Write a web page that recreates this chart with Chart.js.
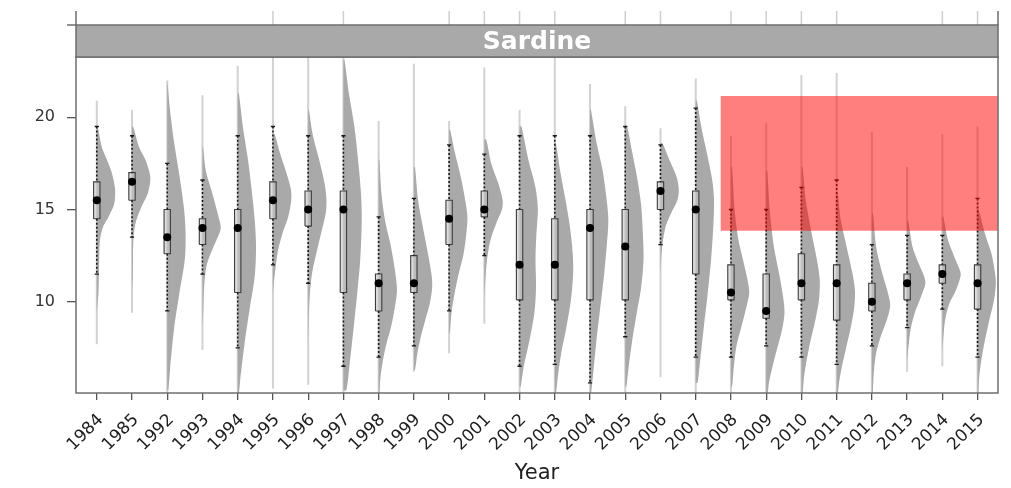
<!DOCTYPE html>
<html>
<head>
<meta charset="utf-8">
<script src="https://cdn.jsdelivr.net/npm/chart.js@4.4.1/dist/chart.umd.min.js"></script>
<style>
  html, body { margin: 0; padding: 0; background: #ffffff; }
  #wrap { width: 1011px; height: 488px; }
</style>
</head>
<body>
<div id="wrap"><canvas id="chart" width="1011" height="488"></canvas></div>
<script>
// Survey years shown on the x axis
const years = ['1984','1985','1992','1993','1994','1995','1996','1997','1998','1999','2000','2001','2002',
               '2003','2004','2005','2006','2007','2008','2009','2010','2011','2012','2013','2014','2015'];

// Full extent of each length distribution (thin grey line)
const rangeLow  = [7.7, 9.4, 5.0, 7.4, 5.0, 5.3, 5.5, 5.0, 5.0, 6.2, 7.2, 8.8, 5.0, 5.0, 5.0, 5.0, 5.9, 5.0, 5.0, 5.0, 5.0, 5.0, 5.0, 6.2, 6.5, 5.0];
const rangeHigh = [20.9, 20.4, 22.0, 21.2, 22.8, 23.3, 23.3, 23.3, 19.8, 22.9, 19.8, 22.7, 20.4, 23.3, 21.8, 20.6, 19.4, 22.1, 19.0, 19.7, 22.3, 22.4, 19.2, 17.3, 19.1, 19.5];

// Box-and-whisker summary per year
const whiskerLow  = [11.5, 13.5, 9.5, 11.5, 7.5, 12.0, 11.0, 6.5, 7.0, 7.6, 9.5, 12.5, 6.5, 6.6, 5.6, 8.1, 13.1, 7.0, 7.0, 7.6, 7.0, 6.6, 7.6, 8.6, 9.6, 7.0];
const q1          = [14.5, 15.5, 12.6, 13.1, 10.5, 14.5, 14.1, 10.5, 9.5, 10.5, 13.1, 14.6, 10.1, 10.1, 10.1, 10.1, 15.0, 11.5, 10.1, 9.1, 10.1, 9.0, 9.5, 10.1, 11.0, 9.6];
const median      = [15.5, 16.5, 13.5, 14.0, 14.0, 15.5, 15.0, 15.0, 11.0, 11.0, 14.5, 15.0, 12.0, 12.0, 14.0, 13.0, 16.0, 15.0, 10.5, 9.5, 11.0, 11.0, 10.0, 11.0, 11.5, 11.0];
const q3          = [16.5, 17.0, 15.0, 14.5, 15.0, 16.5, 16.0, 16.0, 11.5, 12.5, 15.5, 16.0, 15.0, 14.5, 15.0, 15.0, 16.5, 16.0, 12.0, 11.5, 12.6, 12.0, 11.0, 11.5, 12.0, 12.0];
const whiskerHigh = [19.5, 19.0, 17.5, 16.6, 19.0, 19.5, 19.0, 19.0, 14.6, 15.6, 18.5, 18.0, 19.0, 19.0, 19.0, 19.5, 18.5, 20.5, 15.0, 15.0, 16.2, 16.6, 13.1, 13.6, 13.6, 15.6];

// Density profile of each year: [length, relative density], from top to bottom
const violinProfiles = [
  [[19.5,.05],[18.4,.27],[17.7,.55],[17.0,.82],[16.1,1],[15.3,.95],[14.6,.64],[14.1,.36],[13.4,.18],[12.3,.13],[10.5,.09],[9.4,0]],
  [[19.5,.06],[18.4,.38],[17.7,.73],[17.0,.96],[16.6,1],[15.9,.87],[15.2,.54],[14.4,.23],[13.7,.1],[13.0,.06],[11.5,.04],[10.5,0]],
  [[21.8,.02],[20.4,.15],[18.6,.38],[16.8,.67],[15.0,.92],[13.7,1],[12.3,.96],[10.5,.67],[8.6,.38],[6.8,.19],[5.2,.06]],
  [[18.4,.03],[17.1,.18],[15.9,.53],[14.6,.88],[14.0,1],[13.4,.79],[12.6,.44],[11.9,.21],[10.8,.09],[9.4,.04],[8.6,0]],
  [[21.3,.06],[19.5,.28],[17.7,.56],[15.9,.78],[14.4,.93],[13.0,1],[11.4,.93],[9.6,.65],[7.7,.37],[5.9,.15],[5.0,.06]],
  [[19.1,.09],[18.1,.37],[17.1,.7],[16.1,.98],[15.5,1],[14.6,.83],[13.7,.52],[12.8,.28],[11.9,.15],[11.2,.07],[10.5,0]],
  [[20.4,.04],[19.1,.24],[17.7,.6],[16.4,.9],[15.5,1],[14.8,.96],[13.7,.7],[12.6,.44],[11.7,.24],[10.8,.12],[9.4,.04],[7.7,0]],
  [[23.1,.06],[21.3,.3],[19.5,.6],[17.7,.8],[15.9,.96],[14.4,1],[12.3,.92],[10.5,.76],[8.6,.56],[6.8,.36],[5.2,.16]],
  [[17.7,.04],[15.9,.15],[14.4,.35],[13.0,.67],[11.5,.92],[10.6,1],[9.6,.87],[8.6,.67],[7.7,.42],[6.8,.23],[5.9,.1],[5.0,.04]],
  [[17.3,.06],[15.5,.23],[14.1,.48],[12.6,.77],[11.5,.96],[10.8,1],[9.9,.87],[9.0,.62],[8.1,.38],[7.2,.19],[6.3,.06]],
  [[19.3,.06],[18.1,.31],[16.8,.63],[15.5,.88],[14.6,1],[13.7,.94],[12.6,.79],[11.5,.52],[10.5,.31],[9.4,.13],[8.3,.04]],
  [[18.8,.1],[17.5,.38],[16.4,.77],[15.5,1],[15.0,.96],[14.3,.67],[13.4,.35],[12.3,.15],[11.2,.06],[10.1,0]],
  [[19.5,.1],[17.7,.48],[16.2,.87],[15.0,1],[13.7,.92],[12.3,.87],[10.8,.9],[9.4,.81],[7.9,.54],[6.5,.23],[5.4,.06]],
  [[18.6,.06],[17.1,.29],[15.5,.59],[14.1,.82],[12.6,.98],[11.5,1],[10.1,.88],[8.6,.63],[7.2,.35],[5.9,.16],[5.0,.06]],
  [[20.4,.05],[18.6,.36],[17.1,.69],[15.5,.91],[14.4,1],[13.0,.91],[11.4,.76],[9.6,.55],[7.7,.33],[5.9,.15],[5.0,.05]],
  [[19.5,.1],[18.1,.38],[16.6,.67],[15.2,.87],[13.7,.96],[12.3,1],[10.8,.87],[9.4,.63],[7.9,.38],[6.5,.19],[5.4,.06]],
  [[18.6,.1],[17.7,.48],[16.8,.87],[16.1,1],[15.5,.92],[14.8,.58],[14.1,.29],[13.2,.12],[12.3,.04],[11.4,0]],
  [[20.9,.06],[19.5,.3],[18.1,.6],[16.6,.9],[15.5,1],[14.1,.96],[12.3,.84],[10.5,.66],[8.6,.44],[6.8,.24],[5.6,.1]],
  [[17.3,.06],[15.0,.2],[13.4,.4],[12.1,.7],[11.2,.9],[10.5,1],[9.7,.84],[8.6,.56],[7.6,.3],[6.5,.16],[5.4,.06]],
  [[17.1,.06],[15.0,.19],[13.0,.42],[11.4,.73],[10.3,.92],[9.4,1],[8.5,.87],[7.4,.58],[6.5,.35],[5.6,.15],[5.0,.08]],
  [[17.3,.06],[15.5,.24],[13.7,.56],[12.3,.84],[11.2,1],[10.1,.96],[9.0,.76],[7.9,.5],[6.8,.28],[5.9,.14],[5.0,.06]],
  [[15.9,.06],[14.4,.23],[13.0,.54],[11.5,.87],[10.6,1],[9.7,.96],[8.6,.77],[7.6,.54],[6.5,.29],[5.6,.13],[5.0,.06]],
  [[14.8,.06],[13.0,.23],[11.5,.58],[10.5,.87],[9.8,1],[9.0,.81],[8.1,.48],[7.2,.23],[6.1,.1],[5.0,.04]],
  [[14.4,.06],[13.0,.29],[12.1,.62],[11.4,.92],[11.0,1],[10.3,.77],[9.4,.42],[8.5,.19],[7.6,.08],[6.8,0]],
  [[14.6,.06],[13.4,.29],[12.4,.67],[11.7,.96],[11.4,1],[10.6,.73],[9.9,.38],[9.0,.15],[8.1,.06],[7.4,0]],
  [[15.0,.06],[13.7,.4],[12.6,.76],[11.5,.96],[11.0,1],[10.1,.9],[9.0,.64],[7.9,.4],[6.8,.2],[5.8,.08],[5.0,.04]]
];

// Highlighted length band (recent years)
const highlightStart = 17.71;   // category position where the band begins
const highlightLow = 13.85;
const highlightHigh = 21.15;

// Years whose distribution lines from the panel above show over the strip
const upperPanelYears = ['1995','1997','2000','2001','2002','2003','2005','2006','2008','2009','2010','2011','2014','2015'];

const yTickValues = [10, 15, 20];

// Axis limits (category positions and lengths)
const xMin = -0.59, xMax = 25.58;
const yMin = 5.05, yMax = 23.27;

// Half-widths in category units
const violinWidth = 0.52;
const boxHalf = 0.09;
const capHalf = 0.06;

const FONT = '"DejaVu Sans", "Liberation Sans", Arial, sans-serif';

const datasets = [];

// Highlight band, drawn on top
datasets.push({
  label: 'band', order: 0, showLine: true, fill: 'shape',
  data: [{x: highlightStart, y: highlightLow}, {x: xMax, y: highlightLow},
         {x: xMax, y: highlightHigh}, {x: highlightStart, y: highlightHigh}],
  backgroundColor: 'rgba(255,0,0,0.5)', borderWidth: 0, pointRadius: 0
});

// Medians
datasets.push({
  label: 'median', order: 1, showLine: false,
  data: median.map((m, i) => ({x: i, y: m})),
  pointRadius: 4, pointBackgroundColor: '#000', pointBorderWidth: 0
});

// Dotted whiskers
const whiskerPts = [];
const capPts = [];
years.forEach((_, i) => {
  whiskerPts.push({x: i, y: whiskerHigh[i]}, {x: i, y: q3[i]}, {x: i, y: null},
                  {x: i, y: q1[i]}, {x: i, y: whiskerLow[i]}, {x: i, y: null});
  capPts.push({x: i - capHalf, y: whiskerHigh[i]}, {x: i + capHalf, y: whiskerHigh[i]}, {x: i, y: null},
              {x: i - capHalf, y: whiskerLow[i]}, {x: i + capHalf, y: whiskerLow[i]}, {x: i, y: null});
});
datasets.push({
  label: 'whiskers', order: 2, showLine: true, spanGaps: false, data: whiskerPts,
  borderColor: '#1a1a1a', borderWidth: 1.6, borderDash: [2, 2], pointRadius: 0
});
datasets.push({
  label: 'caps', order: 2, showLine: true, spanGaps: false, data: capPts,
  borderColor: '#1a1a1a', borderWidth: 1.3, pointRadius: 0
});

// Boxes
years.forEach((_, i) => {
  datasets.push({
    label: 'box ' + years[i], order: 3, showLine: true, fill: 'shape',
    data: [{x: i - boxHalf, y: q1[i]}, {x: i + boxHalf, y: q1[i]}, {x: i + boxHalf, y: q3[i]},
           {x: i - boxHalf, y: q3[i]}, {x: i - boxHalf, y: q1[i]}],
    backgroundColor: 'rgba(200,200,200,0.6)', borderColor: '#3c3c3c', borderWidth: 1.1, pointRadius: 0
  });
});

// Half violins (density to the right of each year)
violinProfiles.forEach((prof, i) => {
  const pts = [{x: i, y: prof[0][0]}];
  prof.forEach(([v, d]) => pts.push({x: i + d * violinWidth, y: v}));
  pts.push({x: i, y: prof[prof.length - 1][0]});
  datasets.push({
    label: 'density ' + years[i], order: 4, showLine: true, fill: 'shape', tension: 0.3,
    data: pts, backgroundColor: '#a9a9a9', borderWidth: 0, pointRadius: 0
  });
});

// Thin range lines
const rangePts = [];
years.forEach((_, i) => {
  rangePts.push({x: i, y: rangeLow[i]}, {x: i, y: rangeHigh[i]}, {x: i, y: null});
});
datasets.push({
  label: 'range', order: 5, showLine: true, spanGaps: false, data: rangePts,
  borderColor: '#d2d2d2', borderWidth: 2, pointRadius: 0
});

// Panel frame, strip with the panel name, and the edge of the panel above
const stripPlugin = {
  id: 'strip',
  afterDraw(chart) {
    const {ctx, chartArea: a} = chart;
    const xs = chart.scales.x;
    const stripH = 32, above = 14;
    const top = a.top - stripH;
    ctx.save();
    // lines of the panel above
    ctx.strokeStyle = '#cfcfcf';
    ctx.lineWidth = 1.5;
    upperPanelYears.forEach(y => {
      const px = xs.getPixelForValue(years.indexOf(y));
      ctx.beginPath(); ctx.moveTo(px, top - above); ctx.lineTo(px, top); ctx.stroke();
    });
    // frame
    ctx.strokeStyle = '#6e6e6e';
    ctx.lineWidth = 1.5;
    ctx.strokeRect(a.left, a.top, a.right - a.left, a.bottom - a.top);
    ctx.beginPath();
    ctx.moveTo(a.left, top - above); ctx.lineTo(a.left, top);
    ctx.moveTo(a.right, top - above); ctx.lineTo(a.right, top);
    ctx.moveTo(a.left - 9, top); ctx.lineTo(a.left, top);
    ctx.stroke();
    // strip
    ctx.fillStyle = '#a9a9a9';
    ctx.fillRect(a.left, top, a.right - a.left, stripH);
    ctx.strokeStyle = '#6e6e6e';
    ctx.strokeRect(a.left, top, a.right - a.left, stripH);
    ctx.fillStyle = '#ffffff';
    ctx.font = 'bold 25px ' + FONT;
    ctx.textAlign = 'center';
    ctx.textBaseline = 'middle';
    ctx.fillText('Sardine', (a.left + a.right) / 2, top + stripH / 2 + 1);
    ctx.restore();
  }
};

new Chart(document.getElementById('chart'), {
  type: 'scatter',
  data: { datasets },
  options: {
    responsive: false,
    animation: false,
    devicePixelRatio: 1,
    layout: { padding: { top: 57, right: 13, left: 0, bottom: 0 } },
    plugins: { legend: { display: false }, tooltip: { enabled: false } },
    scales: {
      x: {
        type: 'linear', min: xMin, max: xMax,
        afterFit: s => { s.height = 95; },
        afterBuildTicks: s => { s.ticks = years.map((_, i) => ({value: i})); },
        border: { display: false },
        grid: { drawOnChartArea: false, drawTicks: true, tickLength: 7, color: '#555', lineWidth: 1.3 },
        ticks: {
          autoSkip: false, minRotation: 45, maxRotation: 45, padding: 10, labelOffset: 4,
          color: '#1e1e1e', font: { family: FONT, size: 17 },
          callback: v => years[v]
        },
        title: { display: true, text: 'Year', color: '#222', font: { family: FONT, size: 21 }, padding: { top: 4, bottom: 2 } }
      },
      y: {
        type: 'linear', min: yMin, max: yMax,
        afterFit: s => { s.width = 76; },
        afterBuildTicks: s => { s.ticks = yTickValues.map(v => ({value: v})); },
        border: { display: false },
        grid: { drawOnChartArea: false, drawTicks: true, tickLength: 9, color: '#555', lineWidth: 1.3 },
        ticks: { padding: 12, color: '#333', font: { family: FONT, size: 16 } }
      }
    }
  },
  plugins: [stripPlugin]
});
</script>
</body>
</html>
